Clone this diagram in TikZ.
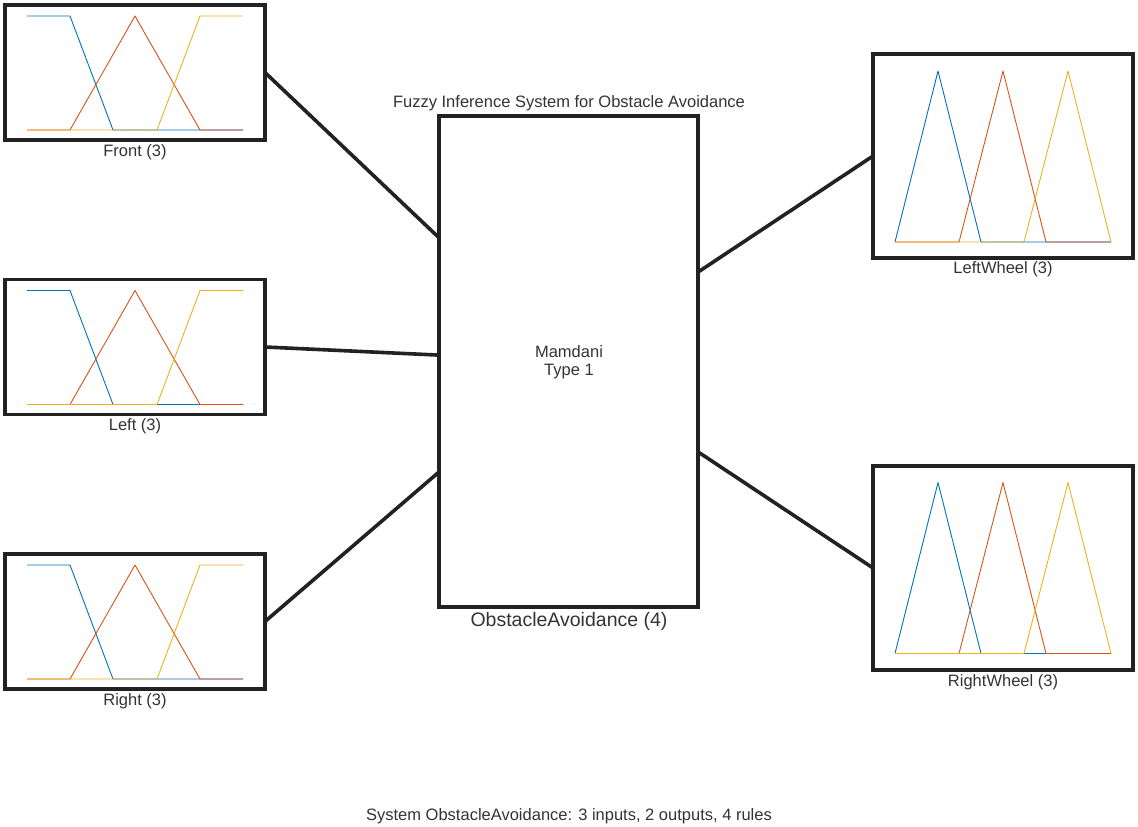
\documentclass[tikz,border=0pt]{standalone}
\usepackage{fontspec}
\setmainfont{Liberation Sans}
\usetikzlibrary{calc}
\definecolor{mfblue}{HTML}{0072BD}
\definecolor{mforange}{HTML}{D95319}
\definecolor{mfyellow}{HTML}{EDB120}
\definecolor{boxline}{HTML}{222222}
\definecolor{txt}{HTML}{333333}
\tikzset{
  mfbox/.style={draw=boxline, line width=3.6pt, inner sep=0pt, outer sep=0pt, minimum width=260pt},
  inbox/.style={mfbox, minimum height=135pt},
  outbox/.style={mfbox, minimum height=204pt},
  fisbox/.style={draw=boxline, line width=3.6pt, inner sep=0pt, outer sep=0pt, minimum width=259pt, minimum height=491pt},
  lbl/.style={text=txt, font=\fontsize{16.5}{19}\selectfont, inner sep=0pt},
  biglbl/.style={text=txt, font=\fontsize{19.5}{22}\selectfont, inner sep=0pt},
  link/.style={draw=boxline, line width=3.6pt},
  mf/.style={line width=0.9pt, line join=round}
}
\newcommand\inputmfs[1]{%
  \begin{scope}[shift={(0,#1)}]
    \draw[mf, mfblue] (27,16) -- (70,16) -- (113,130) -- (243,130);
    \draw[mf, mforange] (27,130) -- (70,130) -- (135,16) -- (200,130) -- (243,130);
    \draw[mf, mfyellow] (27,130) -- (157,130) -- (200,16) -- (243,16);
  \end{scope}}
\newcommand\outputmfs[1]{%
  \begin{scope}[shift={(0,#1)}]
    \draw[mf, mfblue] (895,242) -- (938,71) -- (981,242) -- (1111,242);
    \draw[mf, mforange] (895,242) -- (959,242) -- (1003,71) -- (1046,242) -- (1111,242);
    \draw[mf, mfyellow] (895,242) -- (1024,242) -- (1068,71) -- (1111,242);
  \end{scope}}
\begin{document}
\begin{tikzpicture}[x=1pt, y=-1pt]
  \useasboundingbox (0,0) rectangle (1138,827);
  % input boxes
  \node[inbox] (front) at (135,72.5) {};
  \node[inbox] (left) at (135,347) {};
  \node[inbox] (right) at (135,621.5) {};
  \inputmfs{0}
  \inputmfs{274.5}
  \inputmfs{549}
  \node[lbl] (frontlbl) at (135,152) {Front (3)};
  \node[lbl] (leftlbl) at (135,426.5) {Left (3)};
  \node[lbl] (rightlbl) at (135,701) {Right (3)};
  % FIS box
  \node[fisbox] (fis) at (568.5,361.5) {};
  \node[lbl] (title) at (569,103) {Fuzzy Inference System for Obstacle Avoidance};
  \node[lbl, align=center, font=\fontsize{16.5}{18.5}\selectfont] (mamdani) at (569,362) {Mamdani\\Type 1};
  \node[biglbl] (fislbl) at (569,621.5) {ObstacleAvoidance (4)};
  % output boxes
  \node[outbox] (lw) at (1003,156) {};
  \node[outbox] (rw) at (1003,568) {};
  \outputmfs{0}
  \outputmfs{411.5}
  \node[lbl] (lwlbl) at (1003,269.5) {LeftWheel (3)};
  \node[lbl] (rwlbl) at (1003,682) {RightWheel (3)};
  % connectors
  \coordinate (in1) at ($(fis.north west)!0.248!(fis.south west)$);
  \coordinate (in2) at ($(fis.north west)!0.487!(fis.south west)$);
  \coordinate (in3) at ($(fis.north west)!0.725!(fis.south west)$);
  \coordinate (out1) at ($(fis.north east)!0.318!(fis.south east)$);
  \coordinate (out2) at ($(fis.north east)!0.684!(fis.south east)$);
  \draw[link] (front.east) -- (in1);
  \draw[link] (left.east) -- (in2);
  \draw[link] (right.east) -- (in3);
  \draw[link] (out1) -- (lw.west);
  \draw[link] (out2) -- (rw.west);
  % footer
  \node[lbl] (footer) at (569,816) {System ObstacleAvoidance: 3 inputs, 2 outputs, 4 rules};
\end{tikzpicture}
\end{document}
